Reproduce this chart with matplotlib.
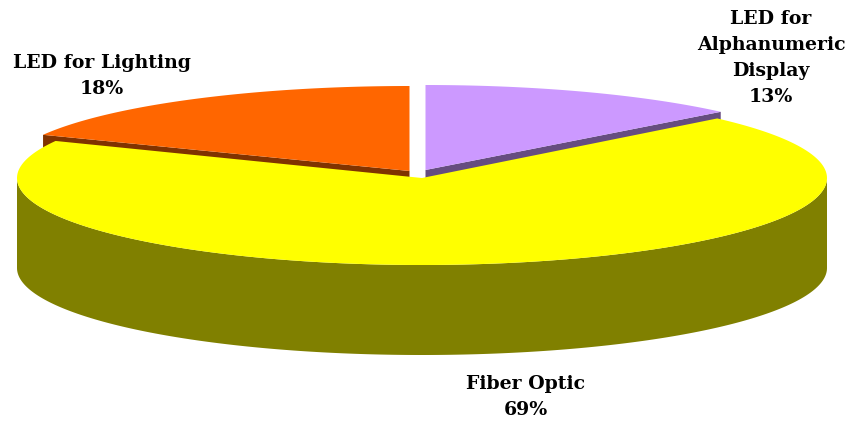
import numpy as np
import matplotlib
matplotlib.use('Agg')
import matplotlib.pyplot as plt

# order is clockwise starting from 12 o'clock
labels = ['LED for\nAlphanumeric\nDisplay', 'Fiber Optic', 'LED for Lighting']
values = [13, 69, 18]
top_colors = ['#CC99FF', '#FFFF00', '#FF6600']
side_colors = ['#664D80', '#808000', '#803300']

# layout in pixels
centers = [(425.5, 170), (422, 178), (409.5, 171)]
semi_y = [85, 87, 85]
semi_x = 405
side_depth = [14, 90, 14]
label_pos = [(771, 58), (526, 397), (102, 76)]


def arc(i, t0, t1, shift=0):
    # t is in degrees, clockwise from the top of the ellipse
    t = np.radians(np.linspace(t0, t1, 200))
    cx, cy = centers[i]
    return cx + semi_x * np.sin(t), cy - semi_y[i] * np.cos(t) + shift


def draw_edge_wall(i, t):
    cx, cy = centers[i]
    x, y = arc(i, t, t)
    d = side_depth[i]
    ax.fill([cx, x[0], x[0], cx], [cy, y[0], y[0] + d, cy + d],
            color=side_colors[i], lw=0)


def draw_top(i, t0, t1):
    cx, cy = centers[i]
    x, y = arc(i, t0, t1)
    ax.fill(np.r_[cx, x], np.r_[cy, y], color=top_colors[i], lw=0)


fig = plt.figure(figsize=(8.51, 4.21), dpi=100)
ax = fig.add_axes([0, 0, 1, 1])
ax.set_xlim(0, 851)
ax.set_ylim(421, 0)
ax.axis('off')

edges = np.r_[0, np.cumsum(values)] * 360 / sum(values)

# thin slices first, the big one sits in front of them
draw_edge_wall(0, edges[1])
draw_edge_wall(2, edges[2])
draw_top(0, edges[0], edges[1])
draw_top(2, edges[2], edges[3])

x, y = arc(1, 90, 270)
ax.fill(np.r_[x, x[::-1]], np.r_[y, y[::-1] + side_depth[1]],
        color=side_colors[1], lw=0)
draw_top(1, edges[1], edges[2])

for name, val, (lx, ly) in zip(labels, values, label_pos):
    ax.text(lx, ly, f'{name}\n{val}%', ha='center', va='center',
            family='DejaVu Serif', weight='bold', fontsize=13.6,
            linespacing=1.58, color='black')

fig.savefig('out.png', dpi=100)
